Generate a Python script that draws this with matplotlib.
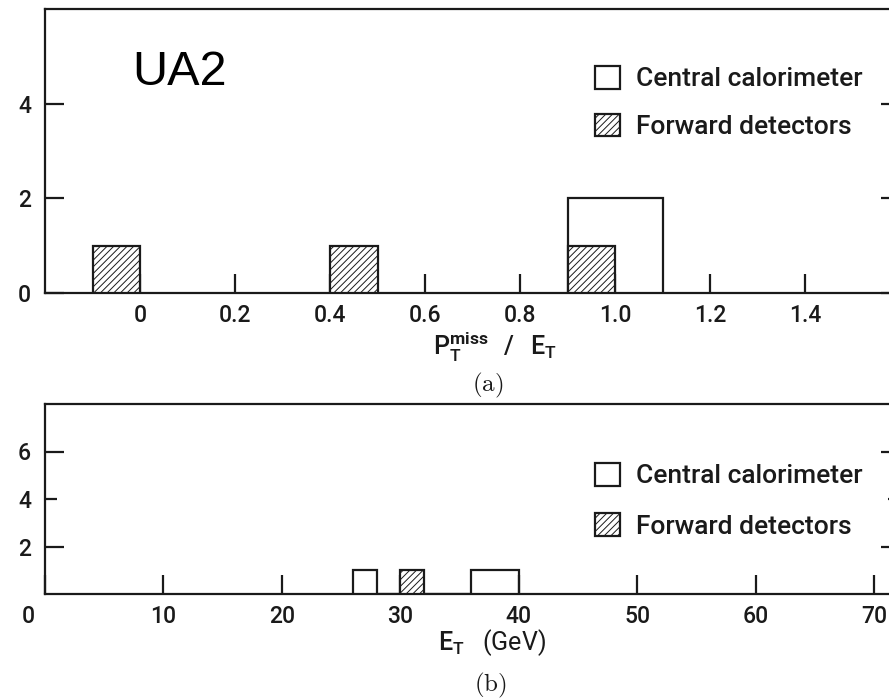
import matplotlib.pyplot as plt
from matplotlib.patches import Patch
from matplotlib.transforms import ScaledTranslation

# --- data ---
# (a) P_T^miss / E_T, bins of 0.1
ratio_central_edges = [0.9, 1.0, 1.1]
ratio_central_counts = [2, 2]
ratio_forward_left = [-0.1, 0.4, 0.9]
ratio_forward_counts = [1, 1, 1]
ratio_bin_width = 0.1
ratio_ticks = [0, 0.2, 0.4, 0.6, 0.8, 1.0, 1.2, 1.4]
ratio_ticklabels = ['0', '0.2', '0.4', '0.6', '0.8', '1.0', '1.2', '1.4']

# (b) E_T (GeV), bins of 2 GeV
et_central_edges = [26, 28, 36, 38, 40]
et_central_counts = [1, 0, 1, 1]
et_forward_left = [30]
et_forward_counts = [1]
et_bin_width = 2
et_ticks = [0, 10, 20, 30, 40, 50, 60, 70]

legend_labels = ['Central calorimeter', 'Forward detectors']

# --- style ---
plt.rcParams['font.family'] = ['Roboto', 'DejaVu Sans']
plt.rcParams['font.weight'] = 'medium'
plt.rcParams['mathtext.fontset'] = 'custom'
plt.rcParams['mathtext.rm'] = 'Roboto:medium'
plt.rcParams['mathtext.bf'] = 'Roboto:bold'
plt.rcParams['hatch.linewidth'] = 0.7
ink = '#1a1a1a'
plt.rcParams['hatch.color'] = ink
lw = 1.6

W, H = 889, 698
fig = plt.figure(figsize=(W / 100, H / 100), dpi=100)
ax1 = fig.add_axes([45 / W, 1 - 293 / H, 855 / W, 284 / H])
ax2 = fig.add_axes([45 / W, 1 - 594 / H, 855 / W, 190 / H])


def style_axes(ax):
    for s in ax.spines.values():
        s.set_linewidth(lw)
        s.set_color(ink)
    ax.tick_params(direction='in', length=14, width=lw, color=ink,
                   labelsize=16.5, labelcolor=ink, right=True, top=False)
    ax.tick_params(axis='x', pad=8)
    ax.tick_params(axis='y', pad=10)


def legend(ax, y, spacing):
    handles = [Patch(facecolor='white', edgecolor=ink, linewidth=lw),
               Patch(facecolor='white', edgecolor=ink, linewidth=lw, hatch='/////')]
    ax.legend(handles, legend_labels, loc='upper left', bbox_to_anchor=(0.643, y),
              frameon=False, fontsize=19, handlelength=0.95, handleheight=0.95,
              handletextpad=0.6, labelspacing=spacing, borderpad=0, borderaxespad=0,
              labelcolor=ink)


# (a)
ax1.stairs(ratio_central_counts, ratio_central_edges, baseline=0, fill=False,
           color=ink, linewidth=lw, zorder=3)
ax1.bar(ratio_forward_left, ratio_forward_counts, width=ratio_bin_width, align='edge',
        facecolor='white', edgecolor=ink, linewidth=lw, hatch='/////', zorder=4)
ax1.set_xlim(-0.2, 1.6)
ax1.set_ylim(0, 6)
ax1.set_xticks(ratio_ticks)
ax1.set_xticklabels(ratio_ticklabels)
ax1.set_yticks([0, 2, 4])
style_axes(ax1)
ax1.set_xlabel(r'$\mathrm{P_T^{\mathbf{miss}}}\ \ /\ \ \mathrm{E_T}$', fontsize=18, color=ink)
ax1.xaxis.set_label_coords(0.526, -0.19)
ax1.xaxis.label.set_va('center')
legend(ax1, 0.80, 0.85)
fig.text(132 / W, 1 - 85 / H, 'UA2', fontfamily='Liberation Sans', fontweight='normal',
         fontsize=35, va='baseline', color='black')
fig.text(488 / W, 1 - 385 / H, r'$\mathrm{(a)}$', math_fontfamily='cm',
         fontsize=18, ha='center', va='center', color=ink)

# (b)
ax2.stairs(et_central_counts, et_central_edges, baseline=0, fill=False,
           color=ink, linewidth=lw, zorder=3)
ax2.bar(et_forward_left, et_forward_counts, width=et_bin_width, align='edge',
        facecolor='white', edgecolor=ink, linewidth=lw, hatch='/////', zorder=4)
ax2.set_xlim(0, 72.2)
ax2.set_ylim(0, 8)
ax2.set_xticks(et_ticks)
ax2.set_yticks([2, 4, 6])
style_axes(ax2)
ax2.yaxis.get_major_ticks()[1].tick1line.set_markersize(8.5)
ax2.yaxis.get_major_ticks()[1].tick2line.set_markersize(8.5)
zero = ax2.get_xticklabels()[0]
zero.set_transform(zero.get_transform() + ScaledTranslation(-0.17, 0, fig.dpi_scale_trans))
ax2.set_xlabel(r'$\mathrm{E_T}$   (GeV)', fontsize=18, color=ink)
ax2.xaxis.set_label_coords(0.523, -0.253)
ax2.xaxis.label.set_va('center')
legend(ax2, 0.69, 0.95)
fig.text(490 / W, 1 - 685 / H, r'$\mathrm{(b)}$', math_fontfamily='cm',
         fontsize=18, ha='center', va='center', color=ink)

fig.savefig('out.png', dpi=100)
